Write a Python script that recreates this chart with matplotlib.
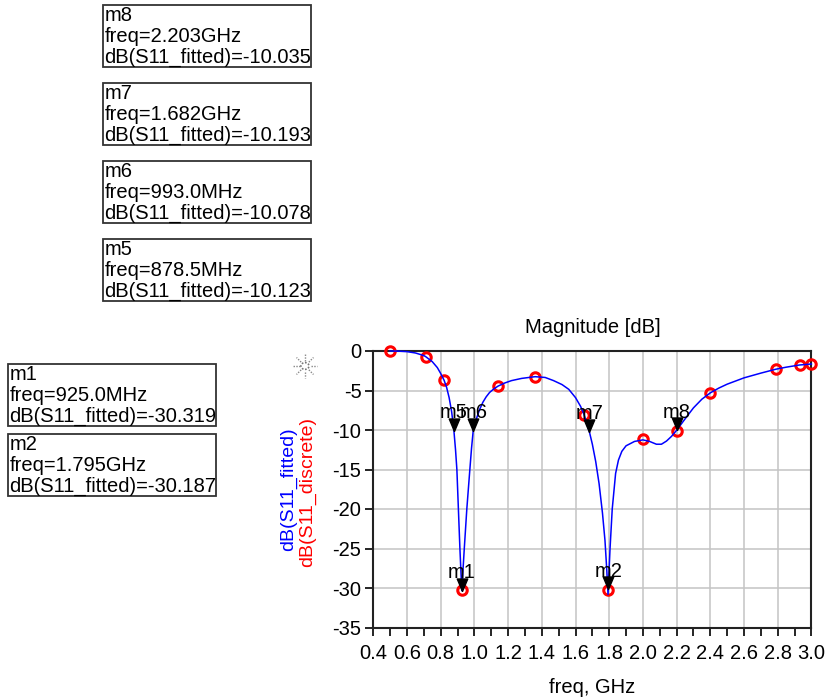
import matplotlib
matplotlib.use("Agg")
import matplotlib.pyplot as plt
from matplotlib.lines import Line2D
from matplotlib.patches import Rectangle
import numpy as np

plt.rcParams['font.family'] = ['Liberation Sans', 'DejaVu Sans']

# ---------------- data ----------------
disc_freq = [0.5, 0.71, 0.82, 0.925, 1.14, 1.36, 1.65, 1.795, 2.0, 2.2, 2.4, 2.79, 2.93, 3.0]
disc_db = [0.0, -0.7, -3.7, -30.3, -4.4, -3.25, -8.1, -30.2, -11.2, -10.1, -5.3, -2.3, -1.77, -1.65]

fit_freq = [0.50, 0.55, 0.60, 0.65, 0.70, 0.71, 0.75, 0.78, 0.80, 0.82, 0.835, 0.85, 0.865,
            0.8785, 0.888, 0.896, 0.905, 0.914, 0.925, 0.94, 0.955, 0.973, 0.983, 0.993,
            1.01, 1.03, 1.05, 1.07, 1.09, 1.115, 1.14, 1.18, 1.22, 1.28, 1.36, 1.42, 1.47,
            1.52, 1.56, 1.60, 1.63, 1.65, 1.682, 1.70, 1.72, 1.74, 1.76, 1.775, 1.785, 1.793,
            1.805, 1.818, 1.838, 1.855, 1.875, 1.90, 1.95, 2.00, 2.04, 2.08, 2.11, 2.14, 2.17, 2.20,
            2.25, 2.30, 2.35, 2.40, 2.45, 2.50, 2.60, 2.70, 2.79, 2.85, 2.93, 3.00]
fit_db = [0.0, -0.02, -0.08, -0.25, -0.58, -0.7, -1.35, -2.1, -2.85, -3.7, -4.6, -5.9, -7.7,
          -10.12, -12.5, -15.0, -20.0, -25.0, -30.32, -25.0, -20.0, -15.0, -12.3, -10.08,
          -8.7, -7.45, -6.5, -5.8, -5.25, -4.8, -4.45, -4.05, -3.75, -3.47, -3.25, -3.35, -3.75,
          -4.25, -4.85, -5.9, -7.0, -8.0, -10.19, -11.8, -14.0, -16.8, -20.5, -24.0, -27.5, -30.8,
          -25.0, -20.0, -15.5, -13.8, -12.7, -12.0, -11.45, -11.25, -11.45, -11.8, -11.8, -11.4, -10.8, -10.04,
          -8.6, -7.2, -6.1, -5.3, -4.7, -4.2, -3.4, -2.8, -2.3, -2.05, -1.77, -1.65]

marker_names = ["m1", "m2", "m5", "m6", "m7", "m8"]
marker_freq = [0.925, 1.795, 0.8785, 0.993, 1.682, 2.203]
marker_db = [-30.319, -30.187, -10.123, -10.078, -10.193, -10.035]

box_names = ["m8", "m7", "m6", "m5", "m1", "m2"]
box_freq_text = ["2.203GHz", "1.682GHz", "993.0MHz", "878.5MHz", "925.0MHz", "1.795GHz"]
box_db_text = ["-10.035", "-10.193", "-10.078", "-10.123", "-30.319", "-30.187"]

x_ticks = [0.4, 0.6, 0.8, 1.0, 1.2, 1.4, 1.6, 1.8, 2.0, 2.2, 2.4, 2.6, 2.8, 3.0]
y_ticks = [0, -5, -10, -15, -20, -25, -30, -35]

FS = 14.5

# ---------------- figure ----------------
W, H = 826, 698
fig = plt.figure(figsize=(W / 100, H / 100), dpi=100)

def fx(px):
    return px / W

def fy(py):
    return 1 - py / H

ax_l, ax_r, ax_t, ax_b = 373.3, 811.4, 351.0, 627.5
ax = fig.add_axes([fx(ax_l), fy(ax_b), fx(ax_r - ax_l), (ax_b - ax_t) / H])

ax.plot(disc_freq, disc_db, linestyle='none', marker='o', markersize=6.8,
        markerfacecolor='none', markeredgecolor='red', markeredgewidth=2.2, zorder=3,
        clip_on=False)
ax.plot(fit_freq, fit_db, color='blue', lw=1.1, zorder=4, clip_on=False)

tri = [(0, 0), (-0.42, 1), (0.42, 1), (0, 0)]
for name, f, d in zip(marker_names, marker_freq, marker_db):
    ax.plot([f], [d], marker=tri, markersize=18, color='black', linestyle='none', zorder=5)
    ax.annotate(name, (f, d), xytext=(0, 9), textcoords='offset points',
                ha='center', va='baseline', fontsize=FS, zorder=6)

ax.set_xlim(0.4, 3.0)
ax.set_ylim(-35, 0)
ax.set_xticks(x_ticks)
ax.set_xticklabels([f"{t:.1f}" for t in x_ticks])
ax.set_xticks([t + 0.1 for t in x_ticks[:-1]], minor=True)
ax.set_yticks(y_ticks)
ax.set_yticklabels([str(t) for t in y_ticks])
ax.grid(True, which='major', color='#c4c4c4', lw=1.1)
ax.set_axisbelow(True)
ax.tick_params(axis='both', which='both', direction='out', length=6, width=1.2,
               labelsize=FS, color='black')
ax.tick_params(axis='x', which='both', pad=6)
ax.tick_params(axis='y', pad=2.5)
for s in ax.spines.values():
    s.set_linewidth(1.5)
    s.set_color('#222222')

ax.set_title("Magnitude [dB]", fontsize=FS, pad=13)
ax.set_xlabel("freq, GHz", fontsize=FS, labelpad=11)

yc = (ax_t + ax_b) / 2
fig.text(fx(289), fy(yc), "dB(S11_fitted)", color='blue', rotation=90,
         ha='center', va='center', fontsize=14)
fig.text(fx(308), fy(yc + 3), "dB(S11_discrete)", color='red', rotation=90,
         ha='center', va='center', fontsize=14)

# logo (star) near the y labels
cx, cy = 305, 366
for k in range(8):
    a = k * np.pi / 4
    x0, y0 = cx + 5.5 * np.cos(a), cy + 5.5 * np.sin(a)
    x1, y1 = cx + 12 * np.cos(a), cy + 12 * np.sin(a)
    fig.add_artist(Line2D([fx(x0), fx(x1)], [fy(y0), fy(y1)], color='#888888',
                          lw=1.0, linestyle=(0, (1, 1))))
circ = plt.Circle((fx(cx), fy(cy)), 4 / W, transform=fig.transFigure, fill=False,
                  edgecolor='#777777', lw=1.2, linestyle=(0, (1, 1)))
fig.add_artist(circ)

# marker info boxes
boxes = [(103, 5), (103, 83), (103, 161), (103, 239), (8, 364), (8, 434)]
bw, bh = 208, 62
for (bx, by), name, ftxt, dtxt in zip(boxes, box_names, box_freq_text, box_db_text):
    fig.add_artist(Rectangle((fx(bx), fy(by + bh)), bw / W, bh / H,
                             transform=fig.transFigure, fill=False,
                             edgecolor='#333333', lw=1.3))
    fig.text(fx(bx + 1.5), fy(by + 1), f"{name}\nfreq={ftxt}\ndB(S11_fitted)={dtxt}",
             ha='left', va='top', fontsize=FS, linespacing=1.13)

fig.savefig("out.png", dpi=100)
